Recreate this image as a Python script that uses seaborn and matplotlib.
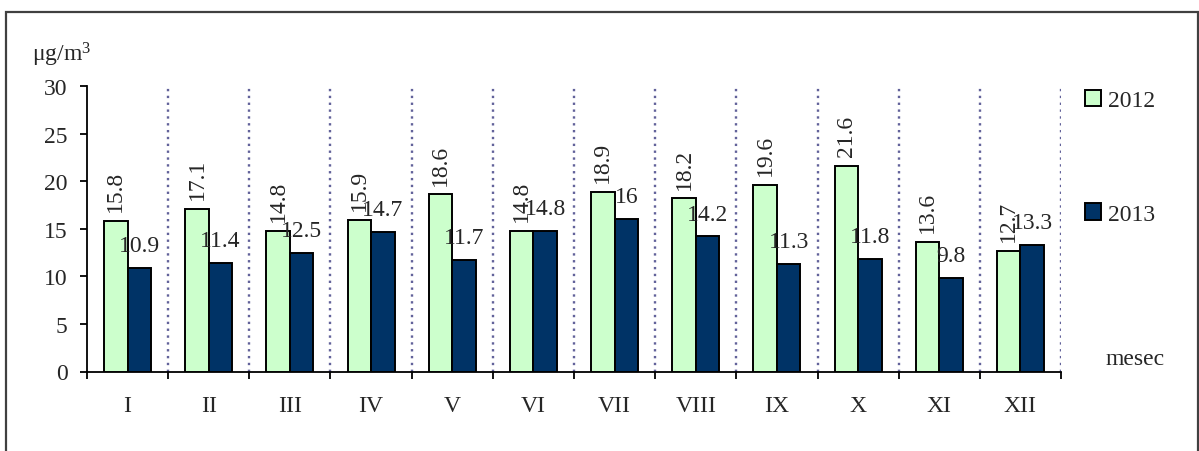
import matplotlib
matplotlib.use("Agg")
import matplotlib.pyplot as plt
from matplotlib.patches import Patch, Rectangle
import seaborn as sns
import pandas as pd

# Monthly mean concentrations, μg/m³
months = ["I", "II", "III", "IV", "V", "VI", "VII", "VIII", "IX", "X", "XI", "XII"]
values_2012 = [15.8, 17.1, 14.8, 15.9, 18.6, 14.8, 18.9, 18.2, 19.6, 21.6, 13.6, 12.7]
values_2013 = [10.9, 11.4, 12.5, 14.7, 11.7, 14.8, 16.0, 14.2, 11.3, 11.8, 9.8, 13.3]
years = ["2012", "2013"]

df = pd.DataFrame({
    "mesec": months * 2,
    "godina": [years[0]] * len(months) + [years[1]] * len(months),
    "vrednost": values_2012 + values_2013,
})

sns.set_style("white")
plt.rcParams["font.family"] = ["Liberation Serif", "DejaVu Serif"]
plt.rcParams["mathtext.fontset"] = "custom"
plt.rcParams["mathtext.rm"] = "Liberation Serif"
plt.rcParams["mathtext.it"] = "Liberation Serif:italic"

FS = 17
W, H = 1199, 452
fig = plt.figure(figsize=(W / 100, H / 100), dpi=100)
fig.patch.set_facecolor("white")

# outer frame
fig.patches.append(Rectangle((6 / W, -0.2), (1198 - 6) / W, 1.2 - 13 / H,
                             transform=fig.transFigure, fill=False,
                             edgecolor="#404040", linewidth=1.6))

ax = fig.add_axes([87 / W, (H - 372.5) / H, (1061 - 87) / W, (372.5 - 87) / H])

palette = {"2012": "#CCFFCC", "2013": "#003366"}
sns.barplot(data=df, x="mesec", y="vrednost", hue="godina", order=months,
            hue_order=years, palette=palette, width=0.58, gap=0,
            edgecolor="black", linewidth=1.4, saturation=1, legend=False,
            errorbar=None, ax=ax, zorder=3)

ax.set_xlim(-0.5, len(months) - 0.5)
ax.set_ylim(0, 30)
ax.set_yticks(range(0, 31, 5))
ax.set_xlabel("")
ax.set_ylabel("")

# dotted separators between months
ax.vlines([i + 0.5 for i in range(len(months))], 0, 30, colors="#62629A",
          linewidth=1.7, linestyles=(0, (1, 1.9)), zorder=1)

for side in ["top", "right"]:
    ax.spines[side].set_visible(False)
for side in ["left", "bottom"]:
    ax.spines[side].set_color("black")
    ax.spines[side].set_linewidth(1.3)

ax.set_xticks([i - 0.5 for i in range(len(months) + 1)], minor=True)
ax.tick_params(axis="x", which="major", length=0, pad=17, labelsize=FS)
ax.tick_params(axis="x", which="minor", length=5, width=1.3, direction="out",
               color="black", bottom=True)
ax.tick_params(axis="y", length=5, width=1.3, direction="out", color="black",
               left=True, pad=9, labelsize=FS)
for lbl in ax.get_yticklabels():
    lbl.set_y(lbl.get_position()[1])

# value labels
ax.bar_label(ax.containers[0], labels=[f"{v:g}" for v in values_2012],
             padding=7, rotation=90, fontsize=FS)
ax.bar_label(ax.containers[1], labels=[f"{v:g}" for v in values_2013],
             padding=8.5, fontsize=FS)

# legend
handles = [Patch(facecolor=palette[y], edgecolor="black", linewidth=1.4, label=y)
           for y in years]
fig.legend(handles=handles, loc="upper left",
           bbox_to_anchor=(1085 / W, 1 - 91 / H), frameon=False, fontsize=FS,
           handlelength=0.68, handleheight=0.68, handletextpad=0.3,
           labelspacing=3.9, borderpad=0, borderaxespad=0)

fig.text(62 / W, 1 - 55 / H, r"μg/m$^{3}$", fontsize=FS, ha="center", va="center")
fig.text(1135 / W, 1 - 360 / H, "mesec", fontsize=FS, ha="center", va="center")

fig.savefig("out.png", dpi=100)
